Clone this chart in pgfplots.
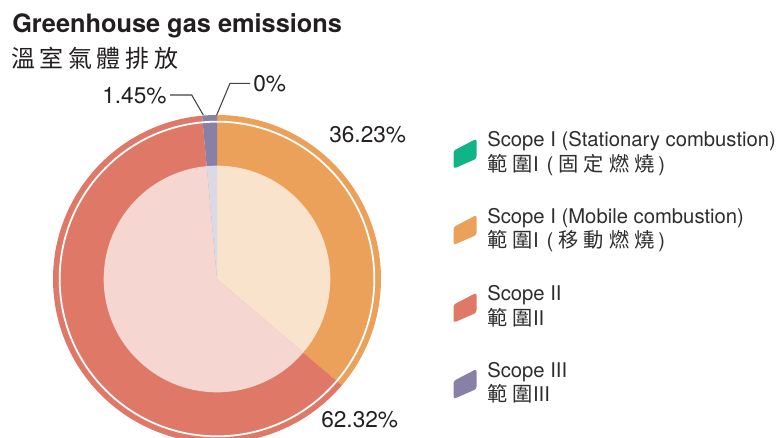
\documentclass[border=0pt]{standalone}
\usepackage{fontspec}
\setmainfont{TeX Gyre Heros}
\newfontfamily\cjktitle[LetterSpace=19]{Noto Sans CJK TC}
\newfontfamily\cjkleg[LetterSpace=26]{Noto Sans CJK TC}
\usepackage{pgfplots}
\usepackage{pgfplotstable}
\pgfplotsset{compat=1.18}

\definecolor{cSta}{HTML}{10B486}
\definecolor{cMob}{HTML}{EBA15A}
\definecolor{cSII}{HTML}{DF7867}
\definecolor{cSIII}{HTML}{8880A6}
\definecolor{lSta}{HTML}{C8EEDF}
\definecolor{lMob}{HTML}{F9E3CC}
\definecolor{lSII}{HTML}{F5D6D1}
\definecolor{lSIII}{HTML}{DCD9E6}
\definecolor{txt}{HTML}{231F20}
\definecolor{legtxt}{HTML}{2E2C2D}

% share of emissions, percent
\pgfplotstableread{
part value
stationary 0
mobile 36.23
scopeII 62.32
scopeIII 1.45
}\ghgdata

% one sector of the pie, centre in px units, radius with unit
\newcommand\ghgwedge[4]{%
  \fill[#4] (axis cs:217,158) -- ++(#1:#3) arc[start angle=#1,end angle=#2,radius=#3] -- cycle;}
% slanted legend swatch
\newcommand\legmark[3]{%
  \fill[#3,rounded corners=1.8pt] (axis cs:{#1-11.5},{#2+3}) -- (axis cs:{#1+11.5},{#2+15})
    -- (axis cs:{#1+11.5},{#2-5}) -- (axis cs:{#1-11.5},{#2-15}) -- cycle;}
% chinese legend line with bracketed part
\newcommand\zhleg[2]{{\cjkleg 範圍}#1\hspace{6pt}(\hspace{3.5pt}{\cjkleg #2}\hspace{2.5pt})}

\begin{document}
\begin{tikzpicture}
\useasboundingbox (0,0) rectangle (585.75pt,327.75pt);
\pgfplotstablegetelem{0}{value}\of\ghgdata \let\vSta\pgfplotsretval
\pgfplotstablegetelem{1}{value}\of\ghgdata \let\vMob\pgfplotsretval
\pgfplotstablegetelem{2}{value}\of\ghgdata \let\vSII\pgfplotsretval
\pgfplotstablegetelem{3}{value}\of\ghgdata \let\vSIII\pgfplotsretval
\pgfmathsetmacro\aA{90}
\pgfmathsetmacro\aB{\aA-3.6*\vSta}
\pgfmathsetmacro\aC{\aB-3.6*\vMob}
\pgfmathsetmacro\aD{\aC-3.6*\vSII}
\pgfmathsetmacro\aE{\aD-3.6*\vSIII}
\begin{axis}[x=0.75pt,y=0.75pt,xmin=0,xmax=781,ymin=0,ymax=437,hide axis,clip=true]
% outer ring
\ghgwedge{\aA}{\aB}{123pt}{cSta}
\ghgwedge{\aB}{\aC}{123pt}{cMob}
\ghgwedge{\aC}{\aD}{123pt}{cSII}
\ghgwedge{\aD}{\aE}{123pt}{cSIII}
% inner pale pie
\ghgwedge{\aA}{\aB}{85pt}{lSta}
\ghgwedge{\aB}{\aC}{85pt}{lMob}
\ghgwedge{\aC}{\aD}{85pt}{lSII}
\ghgwedge{\aD}{\aE}{85pt}{lSIII}
\draw[white,line width=1.35pt] (axis cs:217,158) circle[radius=118pt];

% title
\node[anchor=base west,inner sep=0,text=txt,font=\fontsize{19pt}{22pt}\selectfont\bfseries]
  at (axis cs:12,404.7) {Greenhouse gas emissions};
\node[anchor=base west,inner sep=0,text=txt,font=\fontsize{18pt}{21pt}\selectfont\cjktitle]
  at (axis cs:11,369.5) {溫室氣體排放};

% value labels
\begin{scope}[every node/.style={anchor=base west,inner sep=0,text=txt,font=\fontsize{17pt}{20pt}\selectfont}]
\node at (axis cs:102,334) {1.45\%};
\node at (axis cs:253,345.3) {0\%};
\node at (axis cs:329,294.7) {36.23\%};
\node at (axis cs:321,9.7) {62.32\%};
\end{scope}
\draw[txt!85,line width=0.8pt] (axis cs:170,342) -- (axis cs:191.7,342) -- (axis cs:203.3,322);
\draw[txt!85,line width=0.8pt] (axis cs:250,353.7) -- (axis cs:230,353.7) -- (axis cs:216.7,322);

% legend
\legmark{465}{283.3}{cSta}
\legmark{465}{207}{cMob}
\legmark{465}{129.3}{cSII}
\legmark{465}{53}{cSIII}
\begin{scope}[every node/.style={anchor=base west,inner sep=0,text=legtxt,font=\fontsize{15.2pt}{18pt}\selectfont}]
\node at (axis cs:487,290.3) {Scope I (Stationary combustion)};
\node at (axis cs:487,265.5) {\zhleg{I}{固定燃燒}};
\node at (axis cs:487,214) {Scope I (Mobile combustion)};
\node at (axis cs:487,189.2) {\zhleg{I}{移動燃燒}};
\node at (axis cs:487,136.3) {Scope II};
\node at (axis cs:487,111.5) {{\cjkleg 範圍}II};
\node at (axis cs:487,60) {Scope III};
\node at (axis cs:487,35.2) {{\cjkleg 範圍}III};
\end{scope}
\end{axis}
\end{tikzpicture}
\end{document}
